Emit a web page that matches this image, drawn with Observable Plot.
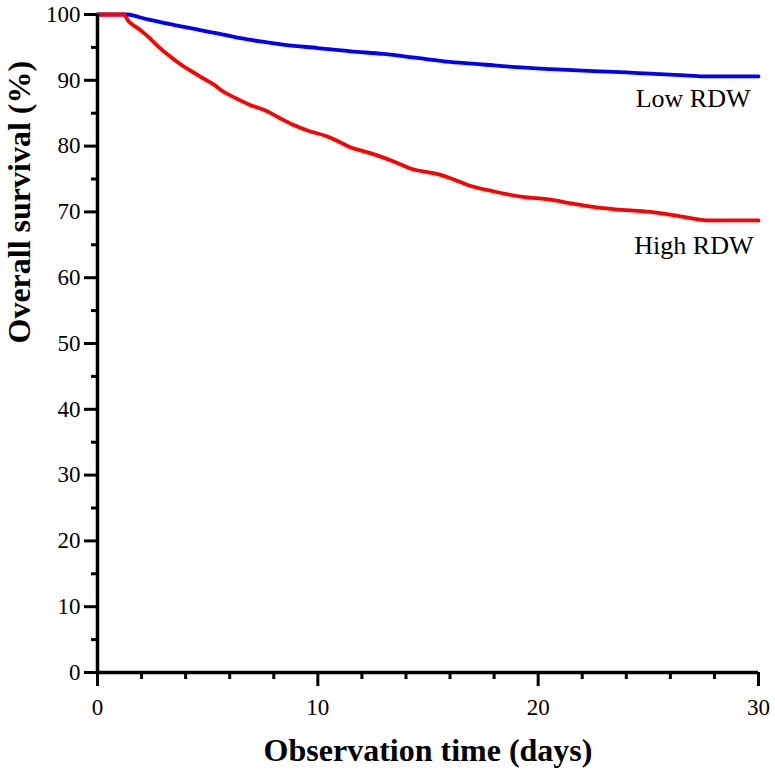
<!DOCTYPE html>
<html>
<head>
<meta charset="utf-8">
<script src="https://cdn.jsdelivr.net/npm/d3@7"></script>
<script src="https://cdn.jsdelivr.net/npm/@observablehq/plot@0.6"></script>
<style>
  html, body { margin: 0; padding: 0; background: #ffffff; }
  svg { display: block; }
</style>
</head>
<body>
<div id="chart"></div>
<script>
// Low RDW group: observation day, overall survival (%)
const lowDays = [0, 1.3, 1.7, 2.0, 2.5, 2.9, 3.5, 4.4, 5.0, 5.5, 6.5, 7.4, 8.5, 10.0, 11.5, 13.0, 14.5, 16.0, 17.5, 19.0, 20.6, 22.5, 24.0, 25.1, 26.5, 27.5, 30];
const lowSurv = [100, 100, 99.8, 99.5, 99.1, 98.8, 98.4, 97.8, 97.4, 97.1, 96.4, 95.9, 95.4, 94.9, 94.4, 94.0, 93.4, 92.8, 92.4, 92.0, 91.7, 91.4, 91.2, 91.0, 90.8, 90.6, 90.6];

// High RDW group
const highDays = [0, 1.2, 1.4, 1.7, 2.0, 2.4, 2.8, 3.3, 3.7, 4.2, 4.7, 5.3, 5.7, 6.2, 6.9, 7.7, 8.3, 8.9, 9.6, 10.4, 11.0, 11.5, 12.2, 12.85, 13.5, 14.2, 15.5, 16.2, 16.8, 18.0, 19.3, 20.5, 21.5, 22.4, 23.5, 25.1, 26.5, 27.8, 30];
const highSurv = [100, 100, 99.0, 98.2, 97.5, 96.3, 95.0, 93.6, 92.6, 91.5, 90.5, 89.3, 88.3, 87.4, 86.3, 85.3, 84.2, 83.2, 82.3, 81.5, 80.6, 79.8, 79.1, 78.4, 77.6, 76.6, 75.7, 74.9, 74.1, 73.1, 72.3, 71.9, 71.3, 70.8, 70.4, 70.0, 69.3, 68.7, 68.7];

const groupNames = ["Low RDW", "High RDW"];
const groupColors = ["#0000ff", "#ff0000"];

const xMajor = [0, 10, 20, 30];
const xMinor = [2, 4, 6, 8, 12, 14, 16, 18, 22, 24, 26, 28];
const yMajor = [0, 10, 20, 30, 40, 50, 60, 70, 80, 90, 100];
const yMinor = [5, 15, 25, 35, 45, 55, 65, 75, 85, 95];

const xTitle = "Observation time (days)";
const yTitle = "Overall survival (%)";

const lowData = lowDays.map((d, i) => ({day: d, surv: lowSurv[i]}));
const highData = highDays.map((d, i) => ({day: d, surv: highSurv[i]}));
const lowEnd = [{name: groupNames[0], day: lowDays[lowDays.length - 1], surv: lowSurv[lowSurv.length - 1]}];
const highEnd = [{name: groupNames[1], day: highDays[highDays.length - 1], surv: highSurv[highSurv.length - 1]}];

const chart = Plot.plot({
  width: 775,
  height: 773,
  marginLeft: 97,
  marginRight: 17,
  marginTop: 14,
  marginBottom: 101,
  style: {fontFamily: "'Liberation Serif', 'Times New Roman', serif", background: "#ffffff", color: "#000000"},
  x: {domain: [0, 30]},
  y: {domain: [0, 100]},
  marks: [
    Plot.line(lowData, {x: "day", y: "surv", stroke: groupColors[0], strokeWidth: 3.8, strokeLinejoin: "round", curve: "monotone-x"}),
    Plot.line(highData, {x: "day", y: "surv", stroke: groupColors[1], strokeWidth: 3.8, strokeLinejoin: "round", curve: "monotone-x"}),
    Plot.text(lowEnd, {x: "day", y: "surv", text: "name", textAnchor: "end", lineAnchor: "middle", dx: -8, dy: 22, fontSize: 26, fill: "#000"}),
    Plot.text(highEnd, {x: "day", y: "surv", text: "name", textAnchor: "end", lineAnchor: "middle", dx: -5, dy: 25, fontSize: 26, fill: "#000"}),
    Plot.axisY({ticks: yMajor, tickSize: 13, tickPadding: 4, fontSize: 23, strokeWidth: 3, label: null, anchor: "left"}),
    Plot.axisY({ticks: yMinor, tickSize: 6, tickFormat: () => "", strokeWidth: 3, label: null, anchor: "left"}),
    Plot.axisX({ticks: xMajor, tickSize: 14, tickPadding: 12, fontSize: 23, strokeWidth: 3, label: null, anchor: "bottom"}),
    Plot.axisX({ticks: xMinor, tickSize: 7, tickFormat: () => "", strokeWidth: 3, label: null, anchor: "bottom"}),
    Plot.ruleX([0], {strokeWidth: 3.5, stroke: "#000"}),
    Plot.ruleY([0], {strokeWidth: 3.5, stroke: "#000"}),
    Plot.text([xTitle], {frameAnchor: "bottom", dy: 78, lineAnchor: "middle", fontSize: 32, fontWeight: "bold", fill: "#000"}),
    Plot.text([yTitle], {frameAnchor: "left", dx: -78, rotate: -90, lineAnchor: "middle", fontSize: 32, fontWeight: "bold", fill: "#000"})
  ]
});
d3.select(chart).selectAll('g[aria-label="y-axis tick"], g[aria-label="x-axis tick"]')
  .attr("stroke-width", 3).attr("stroke", "#000")
  .selectAll("path, line").attr("stroke-width", 3);
document.getElementById("chart").appendChild(chart);
</script>
</body>
</html>
